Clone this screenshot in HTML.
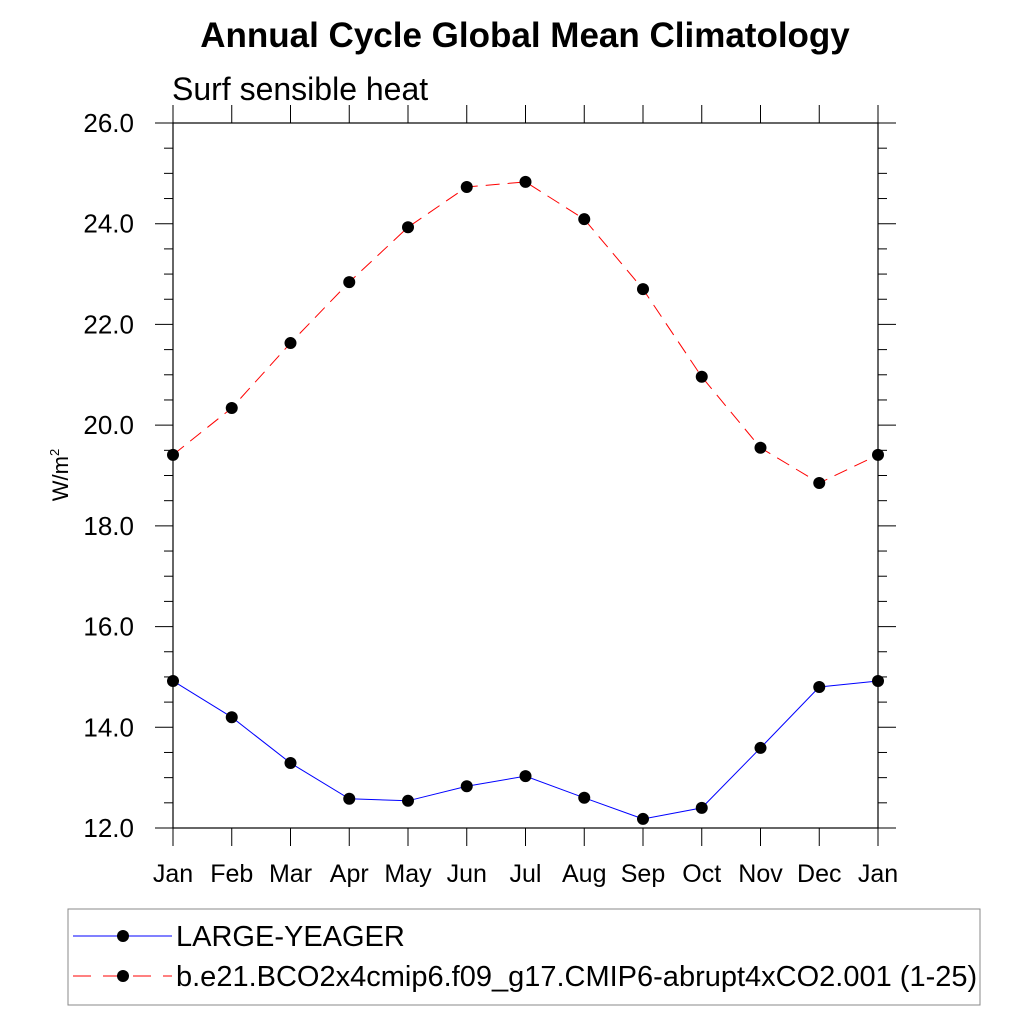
<!DOCTYPE html>
<html><head><meta charset="utf-8"><style>body{margin:0;background:#fff}svg{display:block}text{font-family:"Liberation Sans",sans-serif}</style></head>
<body>
<svg id="c" width="1024" height="1024">
<text x="525" y="47" font-size="35" font-weight="bold" text-anchor="middle">Annual Cycle Global Mean Climatology</text>
<text x="172" y="100" font-size="32">Surf sensible heat</text>
<text transform="translate(68,475) rotate(-90)" font-size="22" text-anchor="middle">W/m<tspan dy="-9" font-size="13">2</tspan></text>
<g id="axes"></g><g id="series"></g>
<rect x="68" y="909" width="912" height="96" fill="none" stroke="#888" stroke-width="1"/>
<line x1="73" y1="936" x2="172" y2="936" stroke="#00f" stroke-width="1"/>
<circle cx="123" cy="936" r="6"/>
<text x="176" y="946" font-size="29">LARGE-YEAGER</text>
<line x1="73" y1="976" x2="172" y2="976" stroke="#f00" stroke-width="1" stroke-dasharray="18,12"/>
<circle cx="123" cy="976" r="6"/>
<text x="176" y="986" font-size="29">b.e21.BCO2x4cmip6.f09_g17.CMIP6-abrupt4xCO2.001 (1-25)</text>
</svg>
<script>
const months=["Jan","Feb","Mar","Apr","May","Jun","Jul","Aug","Sep","Oct","Nov","Dec","Jan"];
const largeYeager=[14.92,14.20,13.29,12.58,12.54,12.83,13.03,12.60,12.18,12.40,13.59,14.80,14.92];
const abrupt4x=[19.41,20.34,21.63,22.84,23.93,24.73,24.83,24.09,22.70,20.96,19.55,18.85,19.41];
const yTicks=[12,14,16,18,20,22,24,26];
const X0=173,X1=878,Y0=828,Y1=123,ymin=12,ymax=26;
const xs=i=>X0+i*(X1-X0)/(months.length-1);
const ys=v=>Y0-(v-ymin)*(Y0-Y1)/(ymax-ymin);
const NS="http://www.w3.org/2000/svg";
function mk(t,a,p){const e=document.createElementNS(NS,t);for(const k in a)e.setAttribute(k,a[k]);p.appendChild(e);return e;}
const ax=document.getElementById('axes'),sr=document.getElementById('series');
let f=mk('rect',{x:X0,y:Y1,width:X1-X0,height:Y0-Y1,fill:'none',stroke:'#000','stroke-width':1.2},ax);


for(let v=ymin;v<=ymax+1e-9;v+=0.5){const maj=Math.abs(v/2-Math.round(v/2))<1e-9;const L=maj?18:9;
mk('line',{x1:X0-L,y1:ys(v),x2:X0,y2:ys(v),stroke:'#000'},ax);
mk('line',{x1:X1,y1:ys(v),x2:X1+L,y2:ys(v),stroke:'#000'},ax);}
yTicks.forEach(v=>{const t=mk('text',{x:X0-39,y:ys(v)+9,'font-size':26,'text-anchor':'end'},ax);t.textContent=v.toFixed(1);

});
months.forEach((m,i)=>{const x=xs(i);
mk('line',{x1:x,y1:Y0,x2:x,y2:Y0+18,stroke:'#000'},ax);
mk('line',{x1:x,y1:Y1-18,x2:x,y2:Y1,stroke:'#000'},ax);
const t=mk('text',{x:x,y:882,'font-size':25,'text-anchor':'middle'},ax);t.textContent=m;

});
function series(d,col,dash,name){const p=mk('polyline',{points:d.map((v,i)=>xs(i)+','+ys(v)).join(' '),fill:'none',stroke:col,'stroke-width':1,'stroke-dasharray':dash},sr);


d.forEach((v,i)=>{const c=mk('circle',{cx:xs(i),cy:ys(v),r:6,fill:'#000'},sr);

});}
series(largeYeager,'#00f','none','large-yeager');
series(abrupt4x,'#f00','14,8','abrupt4xco2');
</script>
</body></html>
